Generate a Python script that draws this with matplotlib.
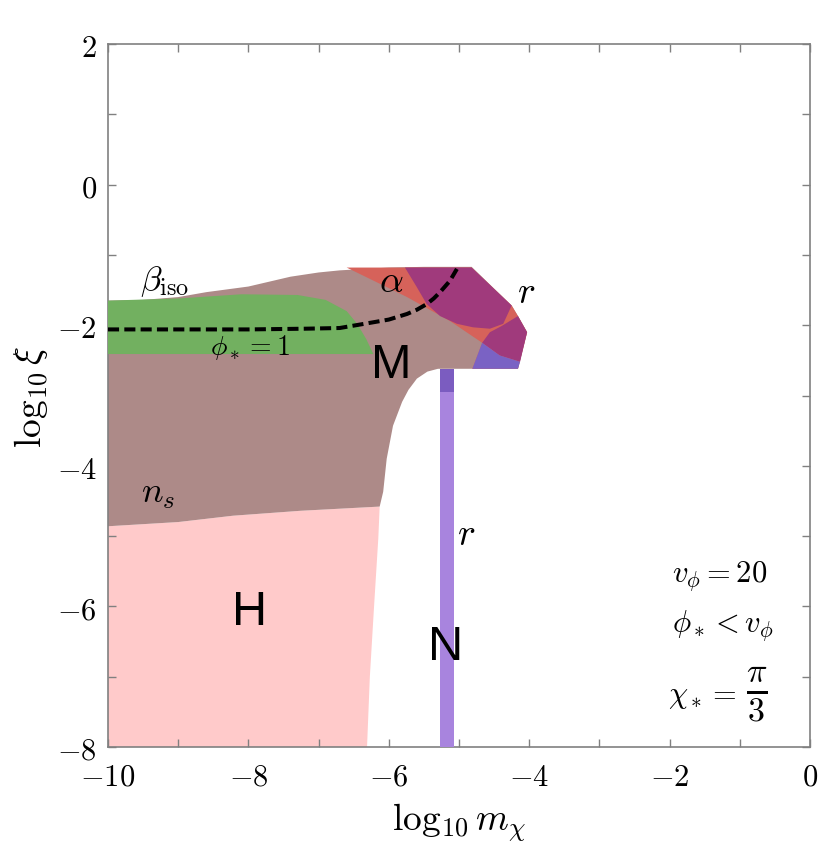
import matplotlib
matplotlib.use("Agg")
import matplotlib.pyplot as plt
from matplotlib.ticker import FuncFormatter, MultipleLocator
import numpy as np

plt.rcParams['mathtext.fontset'] = 'cm'
plt.rcParams['font.family'] = ['DejaVu Serif']

# ---- region boundaries (log10 m_chi, log10 xi) ----
# M region (brown): top (beta_iso) curve, right edge, notch, bottom (n_s) curve
m_top_x = [-10, -9.5, -9.0, -8.6, -8.0, -7.4, -7.0, -6.7, -6.0, -5.5, -4.82]
m_top_y = [-1.65, -1.64, -1.60, -1.53, -1.45, -1.31, -1.25, -1.22, -1.18, -1.17, -1.17]
edge_x = [-4.25, -4.16, -4.03, -4.16]
edge_y = [-1.72, -1.87, -2.10, -2.62]
notch_x = [-5.30, -5.45, -5.60, -5.72, -5.81, -5.94, -6.03, -6.08, -6.13]
notch_y = [-2.62, -2.66, -2.76, -2.92, -3.09, -3.43, -3.90, -4.37, -4.58]
ns_x = [-6.13, -7.26, -8.22, -9.0, -10]
ns_y = [-4.58, -4.64, -4.71, -4.80, -4.86]

# H region (pink): right boundary
h_right_x = [-6.13, -6.15, -6.21, -6.27, -6.31]
h_right_y = [-4.58, -5.04, -6.0, -7.0, -8.0]

# beta_iso region (green)
g_top_x = [-10, -9.0, -8.1, -7.3, -6.9, -6.6, -6.45, -6.32, -6.22]
g_top_y = [-1.65, -1.62, -1.56, -1.57, -1.64, -1.80, -1.98, -2.20, -2.41]
g_bottom = -2.41

# alpha region (red): lower-left boundary
a_x = [-4.67, -5.13, -5.74, -6.6]
a_y = [-2.25, -1.94, -1.60, -1.18]

# r regions (overlap with alpha -> magenta, alone -> blue)
r1_x = [-5.77, -4.82, -4.25, -4.37, -4.56, -4.80, -5.03, -5.27, -5.46, -5.60]
r1_y = [-1.18, -1.18, -1.72, -1.98, -2.05, -2.03, -1.98, -1.87, -1.70, -1.46]
r2_x = [-4.16, -4.03, -4.13, -4.42, -4.67, -4.56, -4.39]
r2_y = [-1.87, -2.10, -2.52, -2.43, -2.25, -2.10, -2.01]
blue_x = [-4.81, -4.67, -4.42, -4.13, -4.16]
blue_y = [-2.62, -2.25, -2.43, -2.52, -2.62]

# N band (r constraint)
bar_x = -5.17
bar_w = 0.2
bar_bottom = -8.0
bar_top = -2.62
bar_dark_bottom = -2.95

# phi_* = 1 contour
dash_x = [-10, -9, -8, -7.2, -6.7, -6.23, -6.0, -5.74, -5.6, -5.46, -5.36, -5.27, -5.13, -5.03]
dash_y = [-2.06, -2.06, -2.06, -2.05, -2.04, -1.96, -1.92, -1.84, -1.78, -1.70, -1.62, -1.53, -1.37, -1.20]

xticks = [-10, -8, -6, -4, -2, 0]
yticks = [-8, -6, -4, -2, 0, 2]

c_brown = '#ad8a88'
c_pink = '#ffcaca'
c_green = '#72b060'
c_red = '#d6625a'
c_mag = '#a03a7c'
c_blue = '#7a62c4'
c_bar = '#a884de'
c_bar_dark = '#7b5cc0'

fig = plt.figure(figsize=(8.3, 8.53), dpi=100)
ax = fig.add_axes([108/830, 1-748/853, 702/830, 703/853])

# pink H region
hx = ns_x[::-1] + h_right_x[1:] + [-10]
hy = ns_y[::-1] + h_right_y[1:] + [-8.0]
ax.fill(hx, hy, color=c_pink, lw=0, zorder=1)

# brown M region
mx = m_top_x + edge_x + notch_x + ns_x[1:]
my = m_top_y + edge_y + notch_y + ns_y[1:]
ax.fill(mx, my, color=c_brown, lw=0, zorder=2)

# green region
gx = g_top_x + [-10]
gy = g_top_y + [g_bottom]
ax.fill(gx, gy, color=c_green, lw=0, zorder=3)

# red alpha region
rx = [-6.6, -4.82] + edge_x + [-4.81] + a_x
ry = [-1.18, -1.18] + edge_y + [-2.62] + a_y
ax.fill(rx, ry, color=c_red, lw=0, zorder=4)

ax.fill(r1_x, r1_y, color=c_mag, lw=0, zorder=5)
ax.fill(r2_x, r2_y, color=c_mag, lw=0, zorder=5)
ax.fill(blue_x, blue_y, color=c_blue, lw=0, zorder=5)

# N band
ax.bar([bar_x], [bar_top - bar_bottom], bottom=bar_bottom, width=bar_w,
       color=c_bar, lw=0, zorder=6)
ax.bar([bar_x], [bar_top - bar_dark_bottom], bottom=bar_dark_bottom, width=bar_w,
       color=c_bar_dark, lw=0, zorder=6)

# dashed contour
ax.plot(dash_x, dash_y, color='black', lw=2.9, linestyle=(0, (2.75, 1.3)), zorder=7)

# labels
ax.text(-9.20, -1.48, r'$\beta_{\mathrm{iso}}$', fontsize=25, ha='center', va='baseline', zorder=8)
ax.text(-5.97, -1.51, r'$\alpha$', fontsize=27, ha='center', va='baseline', zorder=8)
ax.text(-4.05, -1.67, r'$r$', fontsize=27, ha='center', va='baseline', zorder=8)
ax.text(-7.98, -2.41, r'$\phi_* = 1$', fontsize=20, ha='center', va='baseline', zorder=8)
ax.text(-9.29, -4.51, r'$n_s$', fontsize=26, ha='center', va='baseline', zorder=8)
ax.text(-4.90, -5.11, r'$r$', fontsize=27, ha='center', va='baseline', zorder=8)
ax.text(-5.97, -2.74, 'M', fontsize=35, family='Liberation Sans', ha='center', va='baseline', zorder=8)
ax.text(-7.98, -6.25, 'H', fontsize=35, family='Liberation Sans', ha='center', va='baseline', zorder=8)
ax.text(-5.19, -6.75, 'N', fontsize=35, family='Liberation Sans', ha='center', va='baseline', zorder=8)

ax.text(-1.28, -5.64, r'$v_\phi = 20$', fontsize=22, ha='center', va='baseline', zorder=8)
ax.text(-1.24, -6.35, r'$\phi_* < v_\phi$', fontsize=22, ha='center', va='baseline', zorder=8)
ax.text(-1.04, -7.36, r'$\chi_* =$', fontsize=22, ha='right', va='baseline', zorder=8)
ax.text(-0.755, -7.24, r'$\frac{\pi}{3}$', fontsize=35, ha='center', va='center', zorder=8)

ax.set_xlim(-10, 0)
ax.set_ylim(-8, 2)
ax.set_xticks(xticks)
ax.set_yticks(yticks)
ax.xaxis.set_minor_locator(MultipleLocator(1))
ax.yaxis.set_minor_locator(MultipleLocator(1))
fmt = FuncFormatter(lambda v, p: r'$%d$' % int(round(v)))
ax.xaxis.set_major_formatter(fmt)
ax.yaxis.set_major_formatter(fmt)
ax.tick_params(which='both', direction='in', top=True, right=True, length=6,
               width=1, color='#808080', labelsize=22)
ax.tick_params(axis='x', which='both', pad=10)
ax.tick_params(axis='y', which='both', pad=8)
for s in ax.spines.values():
    s.set_color('#808080')
    s.set_linewidth(1.2)

ax.set_xlabel(r'$\log_{10} m_\chi$', fontsize=27, labelpad=6)
ax.set_ylabel(r'$\log_{10} \xi$', fontsize=27, labelpad=5)

fig.savefig('out.png', dpi=100)
